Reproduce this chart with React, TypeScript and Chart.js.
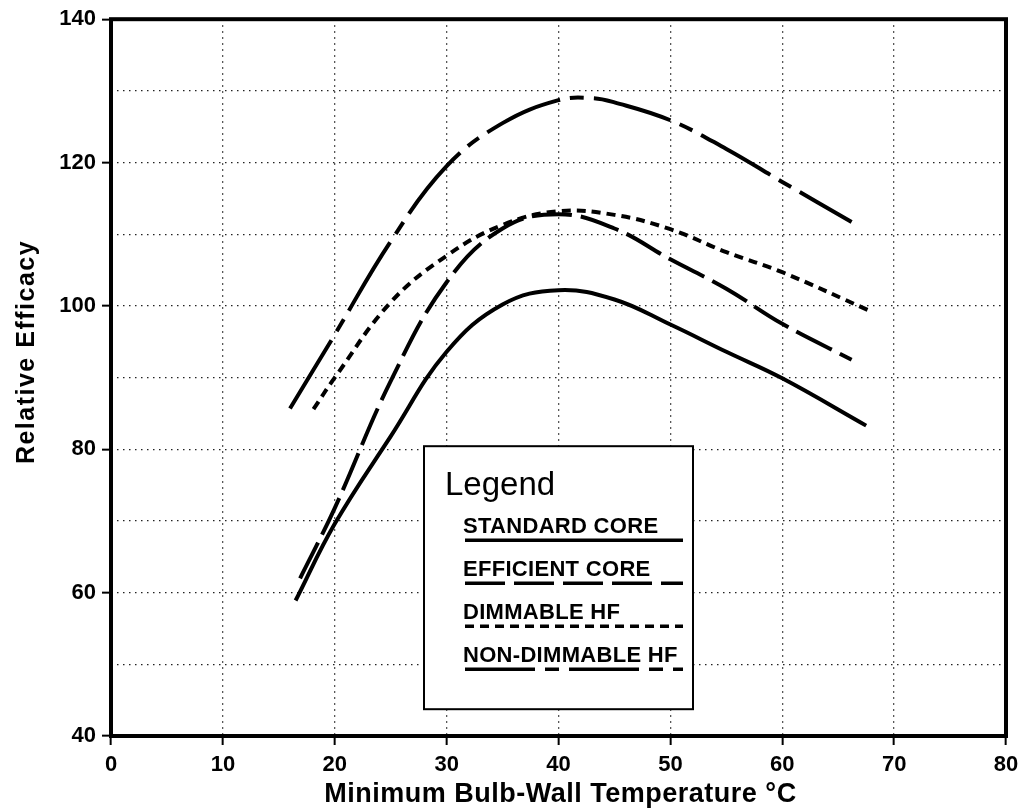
import React, { useEffect, useRef } from "react";
import { Chart, registerables } from "chart.js";

Chart.register(...registerables);

// ---- data ----
const standardX = [16.5, 20, 25, 30, 35, 40, 45, 50, 55, 60, 67.5];
const standardY = [58.9, 69.6, 81.8, 93.6, 100.2, 102.2, 100.9, 97.4, 93.6, 89.9, 83.3];

const efficientX = [16.9, 20, 25, 30, 35, 40, 45, 50, 55, 60, 66.2];
const efficientY = [62, 71.8, 89.5, 103.3, 110.8, 112.8, 110.8, 106.5, 102.4, 97.5, 92.5];

const dimmableX = [18.1, 20, 25, 30, 35, 40, 45, 50, 55, 60, 67.7];
const dimmableY = [85.6, 90, 100.5, 107, 111.3, 113.2, 112.7, 110.7, 107.5, 104.7, 99.4];

const nonDimmableX = [16, 20, 25, 30, 35, 40, 43, 45, 50, 55, 60, 66.2];
const nonDimmableY = [85.7, 96, 109, 119.5, 125.5, 128.7, 129, 128.4, 125.9, 121.9, 117.3, 111.7];

const seriesNames = ["STANDARD CORE", "EFFICIENT CORE", "DIMMABLE HF", "NON-DIMMABLE HF"];
const seriesDashes: number[][] = [[], [40, 9], [9, 6], [80, 10, 14, 10]];

const xTicks = [0, 10, 20, 30, 40, 50, 60, 70, 80];
const yLabelTicks = [40, 60, 80, 100, 120, 140];

const xTitle = "Minimum Bulb-Wall Temperature °C";
const yTitle = "Relative Efficacy";
const legendTitle = "Legend";

const FONT = "'Liberation Sans', Arial, Helvetica, sans-serif";

function pts(xs: number[], ys: number[]) {
  return xs.map((x, i) => ({ x, y: ys[i] }));
}

const decorPlugin = {
  id: "decor",
  afterDraw(chart: any) {
    const ctx = chart.ctx as any;
    const ca = chart.chartArea;
    ctx.save();
    // frame
    ctx.strokeStyle = "#000";
    ctx.lineWidth = 4;
    ctx.setLineDash([]);
    ctx.strokeRect(ca.left, ca.top, ca.right - ca.left, ca.bottom - ca.top);

    // axis titles
    ctx.fillStyle = "#000";
    ctx.font = `bold 27px ${FONT}`;
    ctx.textAlign = "center";
    ctx.textBaseline = "alphabetic";
    ctx.letterSpacing = "0.5px";
    ctx.fillText(xTitle, (ca.left + ca.right) / 2 + 2, 802);

    ctx.save();
    ctx.translate(34, 352);
    ctx.rotate(-Math.PI / 2);
    ctx.font = `bold 25px ${FONT}`;
    ctx.letterSpacing = "1.5px";
    ctx.fillText(yTitle, 0, 0);
    ctx.restore();
    ctx.letterSpacing = "0px";

    // legend box
    const bx = ca.left + 313;
    const by = ca.top + 427;
    const bw = 269;
    const bh = 263;
    ctx.fillStyle = "#fff";
    ctx.fillRect(bx, by, bw, bh);
    ctx.strokeStyle = "#000";
    ctx.lineWidth = 2;
    ctx.strokeRect(bx, by, bw, bh);

    ctx.fillStyle = "#000";
    ctx.textAlign = "left";
    ctx.font = `33px ${FONT}`;
    ctx.fillText(legendTitle, bx + 21, by + 49);

    ctx.font = `bold 22px ${FONT}`;
    ctx.letterSpacing = "0.3px";
    for (let i = 0; i < seriesNames.length; i++) {
      const base = by + 87 + i * 43;
      ctx.fillText(seriesNames[i], bx + 39, base);
      ctx.beginPath();
      ctx.setLineDash(i === 3 ? [70, 10, 14, 10] : seriesDashes[i]);
      ctx.lineWidth = 3.5;
      ctx.moveTo(bx + 41, base + 7);
      ctx.lineTo(bx + 259, base + 7);
      ctx.stroke();
    }
    ctx.restore();
  },
};

export default function App() {
  const canvasRef = useRef<HTMLCanvasElement | null>(null);

  useEffect(() => {
    if (!canvasRef.current) return;
    const mk = (label: string, data: any[], dash: number[]) => ({
      label,
      data,
      borderColor: "#000",
      backgroundColor: "#000",
      borderWidth: 4,
      borderDash: dash,
      borderCapStyle: "butt" as const,
      pointRadius: 0,
      fill: false,
      tension: 0.4,
    });
    const gridBase = {
      color: "#222",
      lineWidth: 1.3,
      tickLength: 9,
      tickWidth: 2,
      tickBorderDash: [],
    };
    const chart = new Chart(canvasRef.current, {
      type: "line",
      data: {
        datasets: [
          mk(seriesNames[0], pts(standardX, standardY), seriesDashes[0]),
          mk(seriesNames[1], pts(efficientX, efficientY), seriesDashes[1]),
          mk(seriesNames[2], pts(dimmableX, dimmableY), seriesDashes[2]),
          mk(seriesNames[3], pts(nonDimmableX, nonDimmableY), seriesDashes[3]),
        ],
      },
      options: {
        animation: false,
        responsive: false,
        maintainAspectRatio: false,
        layout: { padding: { top: 16, right: 22, bottom: 0, left: 0 } },
        plugins: { legend: { display: false }, tooltip: { enabled: false } },
        scales: {
          x: {
            type: "linear",
            min: xTicks[0],
            max: xTicks[xTicks.length - 1],
            afterFit: (s: any) => {
              s.height = 75;
            },
            afterBuildTicks: (s: any) => {
              s.ticks = xTicks.map((v) => ({ value: v }));
            },
            ticks: {
              color: "#000",
              font: { family: FONT, size: 22, weight: "bold" },
              padding: 7,
              maxRotation: 0,
            },
            grid: { ...gridBase, tickColor: "#000" } as any,
            border: { display: false, dash: [1.5, 4.5] },
          },
          y: {
            type: "linear",
            min: 40,
            max: 140,
            afterFit: (s: any) => {
              s.width = 111;
            },
            ticks: {
              stepSize: 10,
              color: "#000",
              font: { family: FONT, size: 22, weight: "bold" },
              padding: 6,
              callback: (v: any) => (yLabelTicks.includes(Number(v)) ? String(v) : ""),
            },
            grid: {
              ...gridBase,
              tickColor: (c: any) =>
                c.tick && yLabelTicks.includes(c.tick.value) ? "#000" : "rgba(0,0,0,0)",
            } as any,
            border: { display: false, dash: [1.5, 4.5] },
          },
        },
      },
      plugins: [decorPlugin],
    });
    return () => chart.destroy();
  }, []);

  return (
    <div style={{ position: "fixed", left: 0, top: 0, width: 1028, height: 811, background: "#fff" }}>
      <canvas ref={canvasRef} width={1028} height={811} style={{ width: 1028, height: 811, display: "block" }} />
    </div>
  );
}
